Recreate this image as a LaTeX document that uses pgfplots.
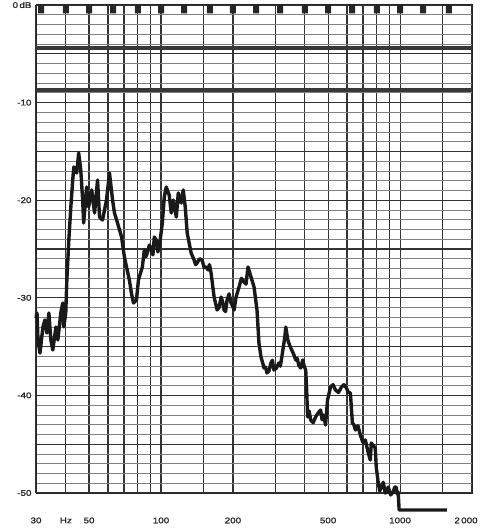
\documentclass[border=0pt]{standalone}
\usepackage{pgfplots}
\pgfplotsset{compat=1.18}
\usepackage{fontspec}
\setmainfont[FakeStretch=1.2, FakeBold=1.2]{Liberation Sans}
\pgfplotstableread{
f db
30.00 -32.07
30.29 -31.56
30.58 -34.32
31.17 -35.66
32.07 -32.99
32.69 -32.27
33.32 -33.61
33.96 -31.56
34.62 -34.32
35.28 -35.35
36.34 -32.99
37.04 -34.32
38.09 -31.56
38.82 -30.53
39.20 -32.99
39.96 -31.56
40.38 -28.18
41.16 -24.08
41.96 -20.70
42.73 -17.93
43.18 -16.60
44.40 -17.21
45.26 -15.16
46.17 -16.91
47.02 -19.98
47.47 -22.34
48.85 -18.65
49.80 -20.70
51.30 -18.95
52.74 -21.31
54.28 -17.93
55.32 -21.72
56.94 -22.03
59.17 -19.98
60.89 -17.21
62.73 -19.98
63.88 -21.31
65.81 -22.34
68.39 -23.77
70.30 -25.82
71.74 -26.84
73.76 -28.18
75.19 -29.51
76.70 -30.53
78.95 -30.23
80.47 -28.18
83.55 -26.84
85.17 -25.10
86.40 -25.80
87.65 -25.41
89.40 -24.60
91.18 -25.10
92.50 -25.60
93.74 -23.77
95.56 -24.08
97.00 -25.30
98.35 -24.80
101.3 -22.34
103.2 -19.67
105.2 -18.65
108.2 -19.47
110.4 -21.31
112.6 -19.98
115.9 -21.72
118.1 -19.26
121.5 -20.29
123.9 -18.95
126.3 -20.70
128.7 -23.36
133.7 -25.41
137.6 -26.13
139.6 -26.60
141.6 -26.43
145.0 -26.00
148.6 -26.13
151.5 -26.90
154.4 -26.84
157.4 -27.15
159.5 -26.60
162.0 -27.46
166.8 -29.92
169.3 -30.60
171.7 -31.25
175.0 -31.00
178.4 -29.92
181.0 -30.40
183.6 -31.25
186.3 -31.40
189.0 -30.23
192.7 -29.60
196.4 -30.53
199.0 -30.80
202.2 -31.25
206.1 -29.92
212.1 -28.89
217.0 -28.00
222.5 -28.38
226.8 -28.60
231.2 -26.84
238.0 -27.87
245.0 -28.89
252.1 -31.25
256.9 -34.63
262.0 -36.07
265.8 -36.60
269.6 -37.19
273.5 -37.10
277.5 -37.70
282.8 -37.50
288.3 -36.68
292.5 -36.40
296.7 -37.40
303.9 -37.20
311.1 -36.68
315.6 -37.00
320.2 -36.07
329.6 -34.02
332.7 -33.00
339.2 -34.32
345.8 -34.90
352.4 -35.35
359.2 -35.80
366.1 -36.37
371.4 -36.20
376.8 -36.89
384.0 -37.20
391.6 -36.37
397.2 -37.00
403.0 -37.40
406.8 -39.45
410.5 -42.21
416.6 -41.60
422.8 -42.52
433.0 -42.80
443.5 -42.21
454.3 -41.80
465.2 -41.50
471.9 -42.50
478.7 -42.01
488.0 -43.03
497.4 -40.47
511.9 -39.14
524.4 -38.90
537.0 -39.45
552.9 -39.70
568.8 -39.14
582.7 -38.90
596.6 -39.24
608.2 -39.70
619.9 -39.75
631.9 -42.83
641.0 -43.00
650.4 -43.55
666.3 -43.10
682.2 -44.06
699.0 -44.80
715.7 -44.57
736.6 -45.90
750.9 -46.62
758.1 -44.88
787.7 -45.39
795.3 -47.34
810.7 -48.98
822.5 -49.80
834.3 -49.39
850.6 -48.90
866.9 -50.00
879.5 -49.90
892.2 -49.39
914.0 -50.20
936.0 -49.90
949.6 -49.40
963.3 -49.39
972.6 -50.10
981.9 -49.90
991.3 -51.74
1189 -51.74
1570 -51.74
}\trace
\begin{document}
\begin{tikzpicture}
\begin{axis}[
  at={(0,0)}, anchor=south west,
  scale only axis, width=436pt, height=488pt,
  xmode=log, xmin=30, xmax=2000, ymin=-50, ymax=0,
  clip=false,
  axis line style={draw=black!85, line width=1pt},
  xtick={30,40,50,60,70,80,90,100,150,200,300,400,500,600,700,800,900,1000,1500,2000},
  xticklabels={30,Hz,50,,,,,100,,200,,,500,,,,,1000,,\hspace*{-12pt}2\,000},
  ytick={0,-5,...,-50},
  yticklabels={0\,dB,,-10,,-20,,-30,,-40,,-50},
  minor ytick={-1,-2,...,-49},
  grid=both,
  major grid style={black!80, line width=1.1pt},
  minor grid style={black!50, line width=0.7pt},
  major tick length=0pt, minor tick length=0pt,
  tick label style={font=\fontsize{8.2}{10}\selectfont, black!85},
  xticklabel style={yshift=-21pt},
  yticklabel style={xshift=-1pt},
]
\addplot[black!78, line width=4.5pt] coordinates {(30,-4.4) (2000,-4.4)};
\addplot[black!78, line width=4.5pt] coordinates {(30,-8.7) (2000,-8.7)};
\addplot[ybar, bar width=6pt, fill=black!85, draw=none] coordinates {
(31.5,-0.85) (40,-0.85) (50,-0.85) (63,-0.85) (80,-0.85) (100,-0.85) (125,-0.85) (160,-0.85) (200,-0.85)
(250,-0.85) (315,-0.85) (400,-0.85) (500,-0.85) (630,-0.85) (800,-0.85) (1000,-0.85) (1250,-0.85) (1600,-0.85)};
\addplot[black!90, line width=3.4pt, line join=round] table[x=f, y=db] {\trace};
\end{axis}
\pgfresetboundingbox
\path[use as bounding box] (-36pt,-38pt) rectangle (446pt,493pt);
\end{tikzpicture}
\end{document}
